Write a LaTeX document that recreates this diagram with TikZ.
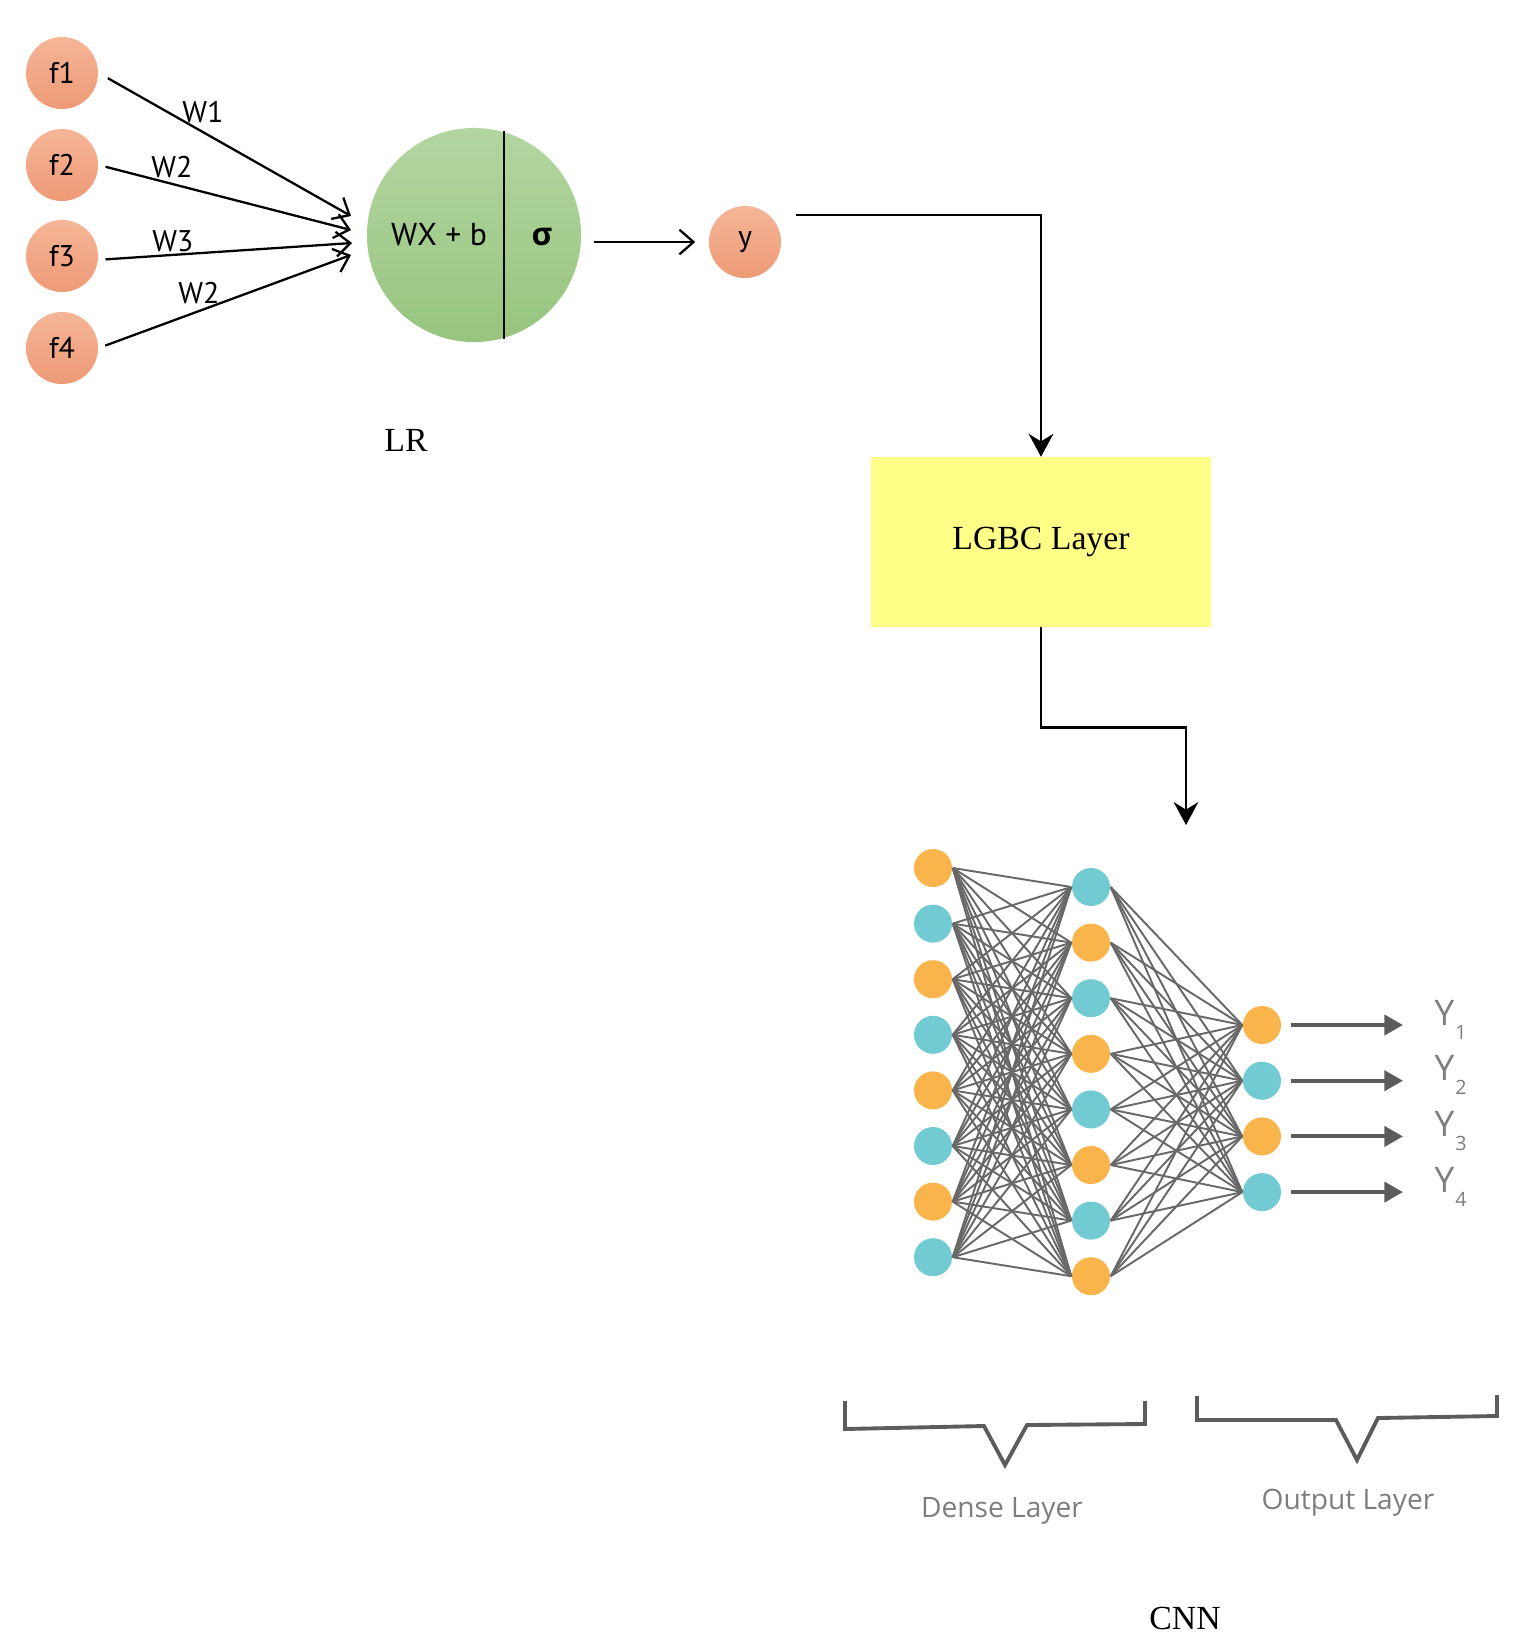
\documentclass[tikz,border=0pt]{standalone}
\usepackage{fontspec}
\setmainfont{Liberation Serif}
\setsansfont{PT Sans}
\newfontfamily\opensans{Open Sans}
\usetikzlibrary{arrows.meta}
\definecolor{ftop}{HTML}{F5B597}
\definecolor{fbot}{HTML}{EE9A76}
\definecolor{gtop}{HTML}{B3D6A1}
\definecolor{gbot}{HTML}{97C47F}
\definecolor{lgbcfill}{HTML}{FFFF88}
\definecolor{nnorange}{HTML}{F9B54B}
\definecolor{nncyan}{HTML}{72CAD2}
\definecolor{nnedge}{HTML}{686868}
\definecolor{nngray}{HTML}{5C5C5C}
\definecolor{nntext}{HTML}{7D7D7D}
\tikzset{
	feat/.style={circle, minimum size=0.72cm, inner sep=0pt, top color=ftop, bottom color=fbot, font=\sffamily\fontsize{8.5}{10}\selectfont},
	wlab/.style={inner sep=0pt, font=\sffamily\fontsize{8.5}{10}\selectfont},
	wire/.style={line width=0.65pt, -{Straight Barb[length=4pt,width=7pt]}},
	flow/.style={line width=0.7pt, -{Stealth[length=6.5pt,width=7pt]}},
	neuron/.style={circle, minimum size=0.38cm, inner sep=0pt},
	nnwire/.style={draw=nnedge, line width=0.55pt},
	outarrow/.style={draw=nngray, line width=1.1pt, -{Triangle[length=5.3pt,width=5.7pt]}},
	brace/.style={draw=nngray, line width=1.1pt},
	ylab/.style={anchor=base west, inner sep=0pt, text=nntext, font=\opensans\fontsize{10}{10}\selectfont},
	serif/.style={font=\rmfamily\fontsize{9.6}{11}\selectfont}
}

\begin{document}
\begin{tikzpicture}[x=0.01cm, y=-0.01cm]
				\useasboundingbox (0, 0) rectangle (1517, 1647);
				
				\node[feat] (f1) at (62, 73) {f1};
				\node[feat] (f2) at (62, 165) {f2};
				\node[feat] (f3) at (62, 256) {f3};
				\node[feat] (f4) at (62, 348) {f4};
				
				\node[circle, minimum size=2.14cm, inner sep=0pt, top color=gtop, bottom color=gbot] (lr) at (474, 235) {};
				\draw[line width=0.6pt] (lr.74.8) -- (lr.-74.8);
				\node[wlab, font=\sffamily\fontsize{9}{10}\selectfont] (wxb) at (439, 235) {WX + b};
				\node[wlab, font=\opensans\bfseries\fontsize{9}{10}\selectfont] (sig) at (542, 237) {σ};
				
				\coordinate (in1) at (351, 216);
				\coordinate (in2) at (351, 230);
				\coordinate (in3) at (352, 243);
				\coordinate (in4) at (351, 255);
				\draw[wire, shorten <=3pt] (f1.east) -- (in1);
				\draw[wire, shorten <=2pt] (f2.east) -- (in2);
				\draw[wire, shorten <=2pt] (f3.-6) -- (in3);
				\draw[wire, shorten <=2pt] (f4.east) -- (in4);
				\node[wlab] (w1) at (203, 112) {W1};
				\node[wlab] (w2) at (172, 167) {W2};
				\node[wlab] (w3) at (173, 241) {W3};
				\node[wlab] (w4) at (199, 293) {W2};
				
				\node[feat] (y) at (745, 242) {y};
				\draw[wire, shorten <=3.4pt, shorten >=3.7pt] (lr.east |- y) -- (y.west);
				\node[serif] (lrlab) at (406, 440) {LR};
				
				\node[fill=lgbcfill, minimum width=3.4cm, minimum height=1.69cm, serif] (lgbc) at (1041, 542) {LGBC Layer};
				\coordinate (yout) at (796, 215);
				\coordinate (nnin) at (1186, 825);
				\draw[flow] (yout) -| (lgbc.north);
				\draw[flow] (lgbc.south) -- ++(0, 100) -| (nnin);
				
				\foreach \i/\c in {1/nnorange,2/nncyan,3/nnorange,4/nncyan,5/nnorange,6/nncyan,7/nnorange,8/nncyan}
					\node[neuron, fill=\c] (a\i) at (933, {868+55.6*(\i-1)}) {};
				\foreach \i/\c in {1/nncyan,2/nnorange,3/nncyan,4/nnorange,5/nncyan,6/nnorange,7/nncyan,8/nnorange}
					\node[neuron, fill=\c] (b\i) at (1091, {887+55.6*(\i-1)}) {};
				\foreach \i/\c in {1/nnorange,2/nncyan,3/nnorange,4/nncyan}
					\node[neuron, fill=\c] (c\i) at (1262, {1025+55.7*(\i-1)}) {};
				
				\foreach \i in {1,...,8}
					\foreach \j in {1,...,8}
						\draw[nnwire] (a\i.east) -- (b\j.west);
				\foreach \j in {1,...,8}
					\foreach \k in {1,...,4}
						\draw[nnwire] (b\j.east) -- (c\k.west);
				
				\foreach \k in {1,...,4} {
					\coordinate (t\k) at (1403, {1025+55.7*(\k-1)});
					\draw[outarrow, shorten <=2.5pt] (c\k.east) -- (t\k);
					\node[ylab] (out\k) at (1434, {1025+55.7*(\k-1)}) {Y\kern0.3pt\raisebox{-4pt}{\fontsize{5.6}{6}\selectfont\k}};
				}
				
				\draw[brace] (845, 1401) -- (845, 1429) -- (984, 1426) -- (1005, 1465) -- (1027, 1425) -- (1145, 1424) -- (1145, 1401);
				\draw[brace] (1197, 1396) -- (1197, 1420) -- (1336, 1420) -- (1357, 1460) -- (1378, 1418) -- (1497, 1416) -- (1497, 1395);
				\node[text=nntext, font=\opensans\fontsize{8}{10}\selectfont] (dense) at (1002, 1511) {Dense Layer};
				\node[text=nntext, font=\opensans\fontsize{8}{10}\selectfont] (output) at (1348, 1503) {Output Layer};
				
				\node[serif] (cnn) at (1185, 1618) {CNN};
\end{tikzpicture}
\end{document}
